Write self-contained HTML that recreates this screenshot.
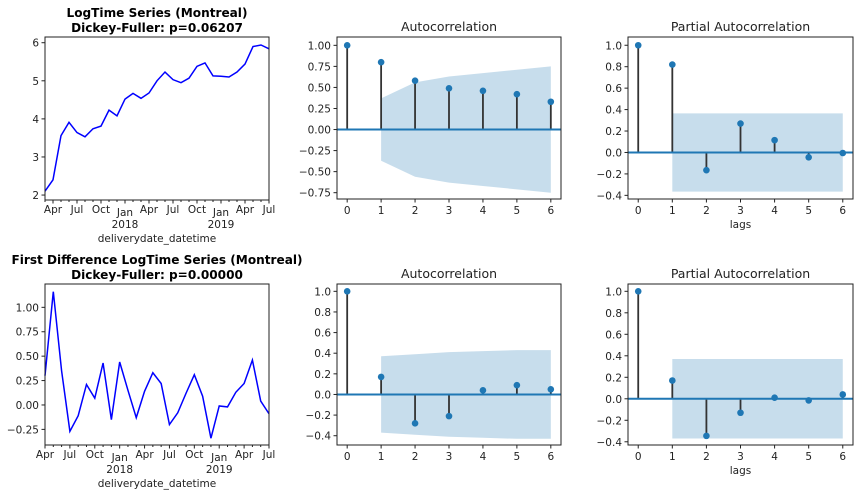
<!DOCTYPE html>
<html><head><meta charset="utf-8"><style>
body{margin:0;background:#fff;}
svg{display:block;font-family:"DejaVu Sans","Liberation Sans",sans-serif;}
</style></head><body>
<svg id="fig" width="863" height="496" viewBox="0 0 863 496"></svg>
<script>
// ---- data ----
const logMonthsStart = [2017, 3]; // Mar 2017
const logValues = [2.1,2.4,3.56,3.91,3.64,3.53,3.74,3.81,4.23,4.08,4.52,4.67,4.54,4.68,5.0,5.23,5.03,4.95,5.07,5.38,5.47,5.13,5.12,5.10,5.23,5.44,5.90,5.94,5.84];
const diffMonthsStart = [2017, 4]; // Apr 2017
const diffValues = [0.30,1.16,0.35,-0.27,-0.11,0.21,0.07,0.43,-0.15,0.44,0.15,-0.13,0.14,0.33,0.22,-0.20,-0.08,0.12,0.31,0.09,-0.34,-0.01,-0.02,0.13,0.22,0.46,0.04,-0.09];
const lags = [0,1,2,3,4,5,6];
const acfTop = [1,0.80,0.58,0.49,0.46,0.42,0.33];
const acfTopBand = [0,0.37,0.56,0.63,0.67,0.71,0.75];
const pacfTop = [1,0.82,-0.165,0.27,0.115,-0.045,-0.005];
const pacfTopBand = [0,0.365,0.365,0.365,0.365,0.365,0.365];
const acfBot = [1,0.17,-0.28,-0.21,0.04,0.09,0.05];
const acfBotBand = [0,0.37,0.39,0.41,0.42,0.43,0.43];
const pacfBot = [1,0.17,-0.345,-0.13,0.01,-0.015,0.04];
const pacfBotBand = [0,0.37,0.37,0.37,0.37,0.37,0.37];
const logYTicks = [2,3,4,5,6];
const diffYTicks = [-0.25,0,0.25,0.5,0.75,1.0];
const acfTopYTicks = [-0.75,-0.5,-0.25,0,0.25,0.5,0.75,1.0];
const pacfYTicks = [-0.4,-0.2,0,0.2,0.4,0.6,0.8,1.0];
const monthNames = ["Jan","Feb","Mar","Apr","May","Jun","Jul","Aug","Sep","Oct","Nov","Dec"];

const NS="http://www.w3.org/2000/svg";
const svg=document.getElementById('fig');
function el(tag,attrs,parent){const e=document.createElementNS(NS,tag);for(const k in attrs)e.setAttribute(k,attrs[k]);(parent||svg).appendChild(e);return e;}
function txt(x,y,s,attrs,parent){const t=el('text',Object.assign({x:x,y:y,fill:'#222','font-size':10.5},attrs||{}),parent);t.textContent=s;return t;}

function axesFrame(g,L,T,R,B){
  const r=el('rect',{x:L,y:T,width:R-L,height:B-T,fill:'none',stroke:'#222','stroke-width':1},g);
  
  
}
function yAxis(g,L,ys,ticks,fmt){
  ticks.forEach(v=>{
    const y=ys(v);
    el('line',{x1:L-3.5,x2:L,y1:y,y2:y,stroke:'#222'},g);
    const t=txt(L-6,y+4,fmt(v),{'text-anchor':'end'},g);
    
    
  });
}
function fmtTick(d){return v=>{const s=Math.abs(v).toFixed(d);return (v<0?'\u2212':'')+s;};}

function tsPanel(name,L,T,R,B,ymin,ymax,start,vals,ticks,dec,titleLines,titleY){
  const g=el('g',{});
  
  
  const n0=start[0]*12+start[1]-1;
  const first=name==='logtime-panel'?2017*12+2:2017*12+3;
  const last=2019*12+6;
  const xs=m=>L+(m-first)/(last-first)*(R-L);
  const ys=v=>B-(v-ymin)/(ymax-ymin)*(B-T);
  const pts=vals.map((v,i)=>xs(n0+i).toFixed(2)+','+ys(v).toFixed(2)).join(' ');
  const line=el('polyline',{points:pts,fill:'none',stroke:'#0000ff','stroke-width':1.5},g);
  
  
  axesFrame(g,L,T,R,B);
  yAxis(g,L,ys,ticks,fmtTick(dec));
  for(let m=first;m<=last;m++){
    const x=xs(m);const mo=m%12;
    const major=(mo%3===0);
    el('line',{x1:x,x2:x,y1:B,y2:B+(major?3.5:2),stroke:'#222'},g);
    if(major){
      const isJan=mo===0;
      const t=txt(x,B+(isJan?16:13),monthNames[mo],{'text-anchor':'middle'},g);
      
      
      if(isJan){const y=txt(x,B+28,String(Math.floor(m/12)),{'text-anchor':'middle'},g);
        
        }
    }
  }
  const xl=txt((L+R)/2,B+42,'deliverydate_datetime',{'text-anchor':'middle'},g);
  
  
  titleLines.forEach((s,i)=>{const t=txt((L+R)/2,titleY+i*15,s,{'text-anchor':'middle','font-weight':'bold','font-size':12.1,fill:'#000'},g);
    
    });
}

function corrPanel(name,L,T,R,B,ymin,ymax,vals,band,ticks,dec,title,showLags){
  const g=el('g',{});
  
  
  const xs=l=>L+(l+0.3)/6.6*(R-L);
  const ys=v=>B-(v-ymin)/(ymax-ymin)*(B-T);
  let up=[],lo=[];
  for(let i=1;i<lags.length;i++){up.push(xs(lags[i]).toFixed(2)+','+ys(band[i]).toFixed(2));lo.unshift(xs(lags[i]).toFixed(2)+','+ys(-band[i]).toFixed(2));}
  const poly=el('polygon',{points:up.concat(lo).join(' '),fill:'#1f77b4','fill-opacity':0.25},g);
  
  
  lags.forEach((l,i)=>{
    const x=xs(l);
    const s=el('line',{x1:x,x2:x,y1:ys(0),y2:ys(vals[i]),stroke:'#333','stroke-width':1.8},g);
    
    
  });
  el('line',{x1:L,x2:R,y1:ys(0),y2:ys(0),stroke:'#1f77b4','stroke-width':2},g);
  lags.forEach((l,i)=>{
    const c=el('circle',{cx:xs(l),cy:ys(vals[i]),r:3.3,fill:'#1f77b4'},g);
    
    
  });
  axesFrame(g,L,T,R,B);
  yAxis(g,L,ys,ticks,fmtTick(dec));
  lags.forEach(l=>{const x=xs(l);el('line',{x1:x,x2:x,y1:B,y2:B+3.5,stroke:'#222'},g);
    const t=txt(x,B+15,String(l),{'text-anchor':'middle'},g);
    
    });
  if(showLags){const t=txt((L+R)/2,B+29,'lags',{'text-anchor':'middle'},g);
    
    }
  const t=txt((L+R)/2,T-6,title,{'text-anchor':'middle','font-size':12.5},g);
  
  
}

tsPanel('logtime-panel',45,37,269,200,1.87,6.15,logMonthsStart,logValues,logYTicks,0,['LogTime Series (Montreal)','Dickey-Fuller: p=0.06207'],17);
tsPanel('first-diff-panel',45,284,269,445,-0.41,1.239,diffMonthsStart,diffValues,diffYTicks,2,['First Difference LogTime Series (Montreal)','Dickey-Fuller: p=0.00000'],264);
corrPanel('acf-top-panel',337,37,561,199,-0.825,1.099,acfTop,acfTopBand,acfTopYTicks,2,'Autocorrelation',false);
corrPanel('pacf-top-panel',628,37,853,199,-0.434,1.077,pacfTop,pacfTopBand,pacfYTicks,1,'Partial Autocorrelation',true);
corrPanel('acf-bottom-panel',337,284,561,445,-0.49,1.071,acfBot,acfBotBand,pacfYTicks,1,'Autocorrelation',false);
corrPanel('pacf-bottom-panel',628,284,853,445,-0.43,1.068,pacfBot,pacfBotBand,pacfYTicks,1,'Partial Autocorrelation',true);
</script>
</body></html>
